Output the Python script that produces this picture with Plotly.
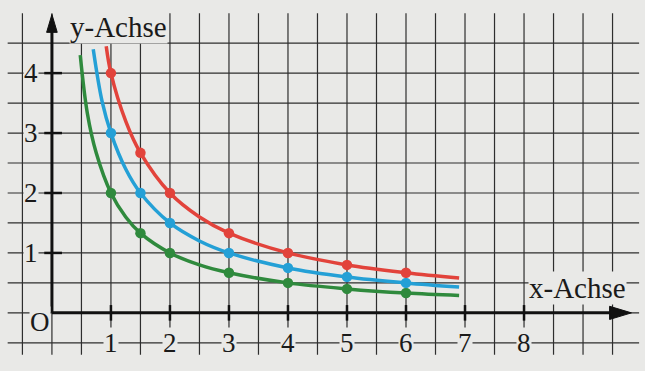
import plotly.graph_objects as go

# ---- data ----
pt_x = [1, 1.5, 2, 3, 4, 5, 6]
red_pts = [4, 2.67, 2, 1.33, 1, 0.8, 0.67]
blue_pts = [3, 2, 1.5, 1, 0.75, 0.6, 0.5]
green_pts = [2, 1.33, 1, 0.67, 0.5, 0.4, 0.33]

red_cx = [0.92, 1, 1.25, 1.5, 2, 2.5, 3, 4, 5, 6, 6.9]
red_cy = [4.45, 4, 3.2, 2.67, 2, 1.6, 1.33, 1, 0.8, 0.67, 0.58]
blue_cx = [0.7, 0.85, 1, 1.25, 1.5, 2, 2.5, 3, 4, 5, 6, 6.9]
blue_cy = [4.4, 3.53, 3, 2.4, 2, 1.5, 1.2, 1, 0.75, 0.6, 0.5, 0.43]
green_cx = [0.48, 0.6, 0.75, 1, 1.25, 1.5, 2, 2.5, 3, 4, 5, 6, 6.9]
green_cy = [4.3, 3.33, 2.67, 2, 1.6, 1.33, 1, 0.8, 0.67, 0.5, 0.4, 0.33, 0.29]

x_ticks = [1, 2, 3, 4, 5, 6, 7, 8]
y_ticks = [1, 2, 3, 4]

RED = "#e2433b"
BLUE = "#24a0d6"
GREEN = "#2f8a3d"
PAPER = "#e9e9e7"
INK = "#2e2e2e"
FONT = "Liberation Serif"

fig = go.Figure()

for cx, cy, px, col in [(green_cx, green_cy, green_pts, GREEN),
                        (blue_cx, blue_cy, blue_pts, BLUE),
                        (red_cx, red_cy, red_pts, RED)]:
    fig.add_trace(go.Scatter(x=cx, y=cy, mode="lines",
                             line=dict(color=col, width=3.5, shape="spline", smoothing=1.0),
                             hoverinfo="skip", showlegend=False))
    fig.add_trace(go.Scatter(x=pt_x, y=px, mode="markers",
                             marker=dict(color=col, size=10.5),
                             showlegend=False))

shapes = []
# grid every 0.5
gx = [i * 0.5 for i in range(-1, 20)]
gy = [i * 0.5 for i in range(-1, 10)]
for v in gx:
    shapes.append(dict(type="line", xref="x", yref="y", x0=v, x1=v, y0=-0.7, y1=5.0,
                       line=dict(color=INK, width=1.2), layer="below"))
for v in gy:
    shapes.append(dict(type="line", xref="x", yref="y", x0=-0.75, x1=9.95, y0=v, y1=v,
                       line=dict(color=INK, width=1.2), layer="below"))
# axes
shapes.append(dict(type="line", x0=0, x1=9.6, y0=0, y1=0, line=dict(color="#111", width=3)))
shapes.append(dict(type="line", x0=0, x1=0, y0=0, y1=4.8, line=dict(color="#111", width=3)))
shapes.append(dict(type="path", path="M 9.45,-0.11 L 9.82,0 L 9.45,0.11 Z",
                   fillcolor="#111", line=dict(color="#111", width=1)))
shapes.append(dict(type="path", path="M -0.09,4.68 L 0,4.98 L 0.09,4.68 Z",
                   fillcolor="#111", line=dict(color="#111", width=1)))
for t in x_ticks:
    shapes.append(dict(type="line", x0=t, x1=t, y0=-0.13, y1=0.13, line=dict(color="#111", width=2.5)))
for t in y_ticks:
    shapes.append(dict(type="line", x0=-0.13, x1=0.17, y0=t, y1=t, line=dict(color="#111", width=2.5)))

ann = []
for t in x_ticks:
    ann.append(dict(x=t, y=-0.5, text=str(t), showarrow=False, bgcolor=PAPER,
                    font=dict(family=FONT, size=27, color="#1a1a1a"), borderpad=0))
for t in y_ticks:
    ann.append(dict(x=-0.35, y=t, text=str(t), showarrow=False, bgcolor=PAPER,
                    font=dict(family=FONT, size=27, color="#1a1a1a"), borderpad=0))
ann.append(dict(x=-0.2, y=-0.15, text="O", showarrow=False, bgcolor=PAPER,
                font=dict(family=FONT, size=27, color="#1a1a1a"), borderpad=0))
ann.append(dict(x=1.12, y=4.77, text="y-Achse", showarrow=False, bgcolor=PAPER,
                font=dict(family=FONT, size=29, color="#1a1a1a"), borderpad=0))
ann.append(dict(x=8.9, y=0.42, text="x-Achse", showarrow=False, bgcolor=PAPER,
                font=dict(family=FONT, size=29, color="#1a1a1a"), borderpad=0))

fig.update_layout(
    width=645, height=371,
    margin=dict(l=0, r=0, t=0, b=0),
    paper_bgcolor=PAPER, plot_bgcolor=PAPER,
    xaxis=dict(range=[-0.88, 10.05], visible=False, fixedrange=True),
    yaxis=dict(range=[-0.97, 5.22], visible=False, fixedrange=True),
    shapes=shapes, annotations=ann,
)

fig.write_html("out.html", config={"displayModeBar": False},
               post_script="document.body.style.margin='0';document.body.style.background='%s';" % PAPER)
